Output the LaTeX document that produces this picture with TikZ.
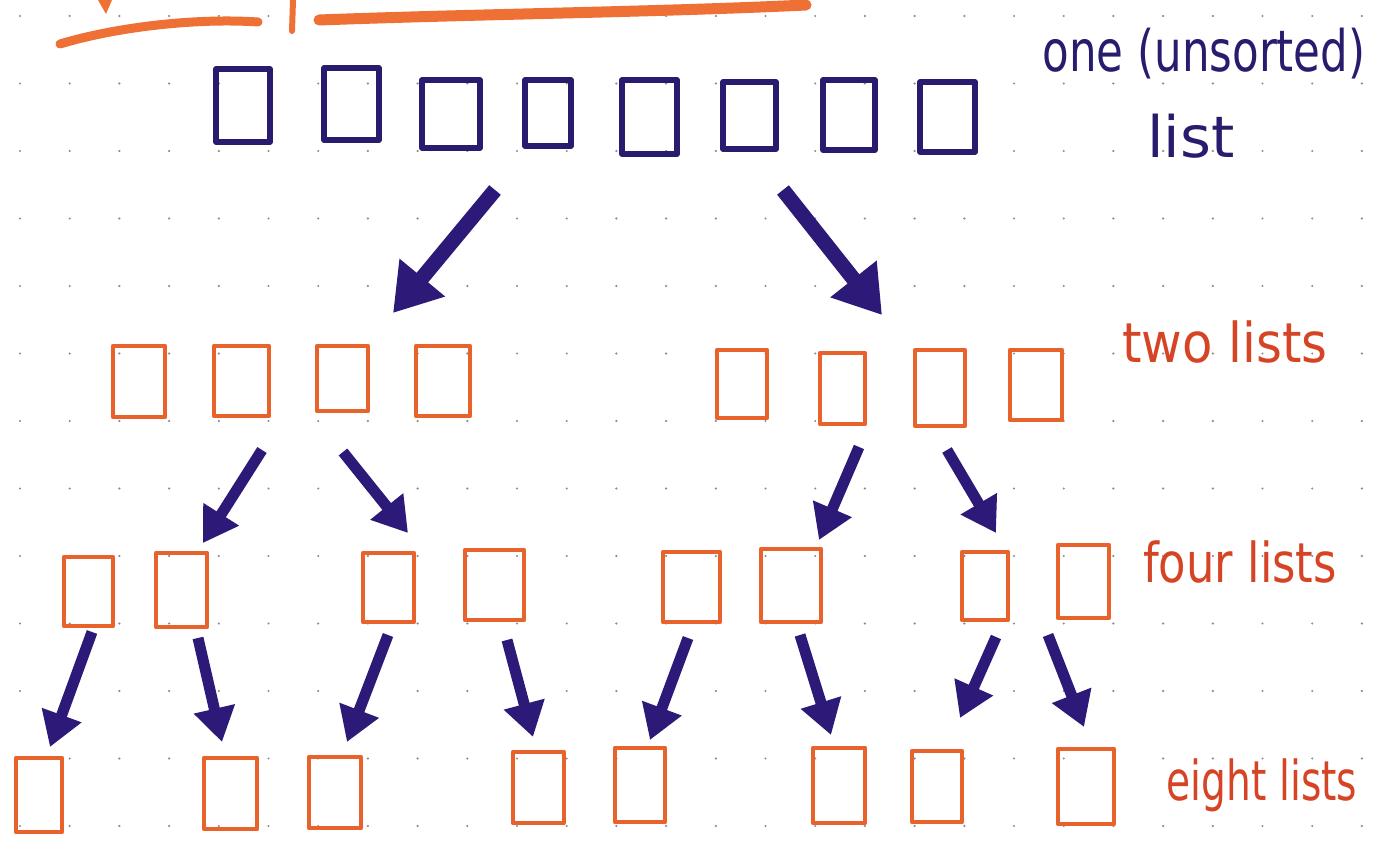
\documentclass[tikz,border=0pt]{standalone}
\usepackage{fontspec}
\setmainfont{DejaVu Sans}
\usetikzlibrary{arrows.meta,fit}
\definecolor{ink}{RGB}{40,28,110}
\definecolor{arrowink}{RGB}{45,25,120}
\definecolor{orbox}{RGB}{232,98,44}
\definecolor{ortext}{RGB}{214,68,38}
\definecolor{orhl}{RGB}{238,112,52}
\definecolor{dotc}{RGB}{140,140,140}
\begin{document}
\begin{tikzpicture}[x=1pt,y=-1pt,
  bluebox/.style={draw=ink,line width=5.5pt,inner sep=0pt,outer sep=0pt,line join=round},
  orbx/.style={draw=orbox,line width=4.6pt,inner sep=0pt,outer sep=0pt,line join=round},
  bigarrow/.style={draw=arrowink,line width=15pt,-{Triangle[length=46pt,width=56pt]}},
  smallarrow/.style={draw=arrowink,line width=11pt,-{Triangle[length=34pt,width=40pt]}},
  lbl/.style={anchor=base,inner sep=0pt,font=\fontsize{44}{50}\selectfont},
  hl/.style={draw=orhl,line cap=round}]
\fill[white] (0,0) rectangle (1383,850);
\useasboundingbox (0,0) rectangle (1383,850);

% dot grid
\foreach \i in {0,...,27}
  \foreach \j in {0,...,12}
    \fill[dotc] (20+49.7*\i,16+67.5*\j) circle (1.2pt);

% orange strokes at the top
\draw[hl,line width=9pt] (60,44) .. controls (120,26) and (200,18) .. (258,22);
\fill[orhl] (98,0) -- (112,0) -- (106,14) -- cycle;
\draw[hl,line width=6pt] (293,0) -- (292,31);
\draw[hl,line width=11pt] (319,20) .. controls (480,14) and (660,12) .. (806,5);

% row 1: one (unsorted) list
\node[bluebox,fit={(216,69) (270,142)}] (b1) {};
\node[bluebox,fit={(324,68) (379,140)}] (b2) {};
\node[bluebox,fit={(422,80) (480,148)}] (b3) {};
\node[bluebox,fit={(525,80) (571,146)}] (b4) {};
\node[bluebox,fit={(622,80) (677,154)}] (b5) {};
\node[bluebox,fit={(723,82) (776,149)}] (b6) {};
\node[bluebox,fit={(823,80) (875,150)}] (b7) {};
\node[bluebox,fit={(920,82) (975,152)}] (b8) {};

% row 2: two lists
\node[orbx,fit={(113,346) (165,417)}] (c1) {};
\node[orbx,fit={(214,346) (269,416)}] (c2) {};
\node[orbx,fit={(317,346) (368,411)}] (c3) {};
\node[orbx,fit={(416,346) (470,416)}] (c4) {};
\node[orbx,fit={(717,350) (767,418)}] (c5) {};
\node[orbx,fit={(820,353) (865,424)}] (c6) {};
\node[orbx,fit={(915,350) (965,426)}] (c7) {};
\node[orbx,fit={(1010,350) (1062,420)}] (c8) {};

% row 3: four lists
\node[orbx,fit={(64,557) (113,626)}] (d1) {};
\node[orbx,fit={(156,553) (207,627)}] (d2) {};
\node[orbx,fit={(363,553) (414,622)}] (d3) {};
\node[orbx,fit={(465,550) (524,620)}] (d4) {};
\node[orbx,fit={(663,552) (720,622)}] (d5) {};
\node[orbx,fit={(761,549) (821,622)}] (d6) {};
\node[orbx,fit={(962,552) (1008,620)}] (d7) {};
\node[orbx,fit={(1058,545) (1109,618)}] (d8) {};

% row 4: eight lists
\node[orbx,fit={(16,758) (62,832)}] (e1) {};
\node[orbx,fit={(204,758) (257,829)}] (e2) {};
\node[orbx,fit={(309,757) (361,828)}] (e3) {};
\node[orbx,fit={(513,752) (564,823)}] (e4) {};
\node[orbx,fit={(615,748) (665,822)}] (e5) {};
\node[orbx,fit={(813,748) (865,823)}] (e6) {};
\node[orbx,fit={(912,751) (962,822)}] (e7) {};
\node[orbx,fit={(1058,749) (1114,824)}] (e8) {};

% arrow end points
\coordinate (a1s) at (495,190); \coordinate (a1e) at (393,313);
\coordinate (a2s) at (783,190); \coordinate (a2e) at (882,315);
\coordinate (a3s) at (262,450); \coordinate (a3e) at (203,543);
\coordinate (a4s) at (343,452); \coordinate (a4e) at (408,533);
\coordinate (a5s) at (859,447); \coordinate (a5e) at (819,540);
\coordinate (a6s) at (947,450); \coordinate (a6e) at (996,533);
\coordinate (f1s) at (92,632);   \coordinate (f1e) at (50,747);
\coordinate (f2s) at (198,638);  \coordinate (f2e) at (222,742);
\coordinate (f3s) at (388,635);  \coordinate (f3e) at (347,742);
\coordinate (f4s) at (507,640);  \coordinate (f4e) at (533,737);
\coordinate (f5s) at (688,638);  \coordinate (f5e) at (650,740);
\coordinate (f6s) at (800,635);  \coordinate (f6e) at (831,735);
\coordinate (f7s) at (996,637);  \coordinate (f7e) at (960,718);
\coordinate (f8s) at (1048,635); \coordinate (f8e) at (1084,727);

\draw[bigarrow] (a1s) -- (a1e);
\draw[bigarrow] (a2s) -- (a2e);
\foreach \k in {3,4,5,6} \draw[smallarrow] (a\k s) -- (a\k e);
\foreach \k in {1,...,8} \draw[smallarrow] (f\k s) -- (f\k e);

% labels
\node[lbl,text=ink] (t1) at (1204,72) {\scalebox{0.99}[1.3]{one (unsorted)}};
\node[lbl,text=ink] (t1b) at (1191,158) {\scalebox{1.35}[1.3]{list}};
\node[lbl,text=ortext] (t2) at (1225,362) {\scalebox{1.13}[1.25]{two lists}};
\node[lbl,text=ortext] (t4) at (1240,582) {\scalebox{1.02}[1.25]{four lists}};
\node[lbl,text=ortext] (t8) at (1262,800) {\scalebox{0.89}[1.25]{eight lists}};
\end{tikzpicture}
\end{document}
